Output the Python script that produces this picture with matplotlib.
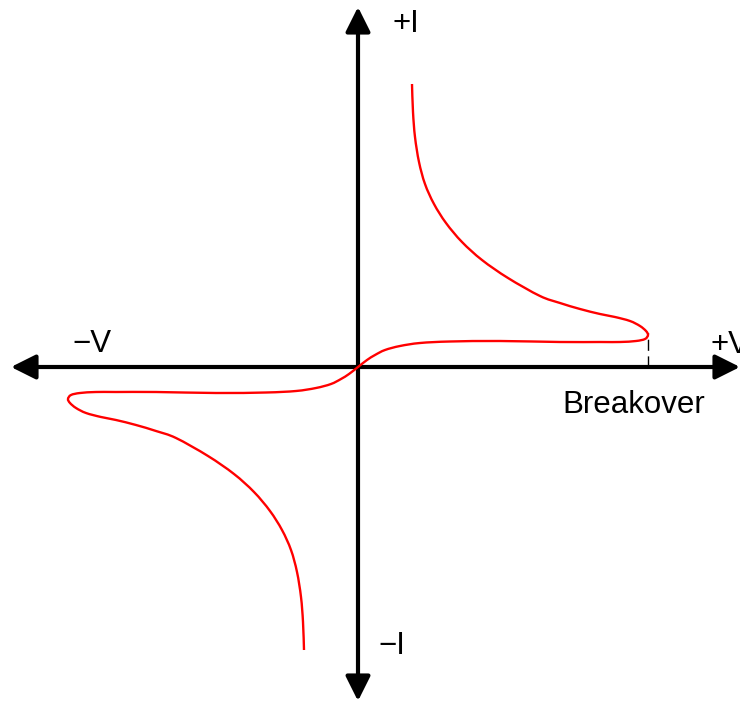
import numpy as np
import matplotlib
matplotlib.use("Agg")
import matplotlib.pyplot as plt
from matplotlib.path import Path
from matplotlib.patches import PathPatch

plt.rcParams['font.family'] = ['Liberation Sans', 'DejaVu Sans']

# -----------------------------
# DIAC characteristic, first quadrant (V, I)
# from the top of the conduction branch down through breakover to 0
# -----------------------------
v_q1 = np.array([
    54, 55, 57, 61, 67, 76, 88, 104, 124, 150, 182, 202, 222, 242, 257,
    272, 282, 288, 290, 287, 278, 262, 242, 202, 142, 92, 62, 42, 27, 17,
    9, 0
], dtype=float)
i_q1 = np.array([
    283, 255, 230, 205, 183, 163, 144, 125, 107, 89, 71, 64, 58, 53, 50,
    46, 41, 36, 32, 28, 26, 25, 25, 25, 26, 25.5, 24, 21, 17, 12,
    7, 0
], dtype=float)

# the device is symmetric: third quadrant is the mirror image
v_q3 = -v_q1
i_q3 = -i_q1

v_breakover = 290
i_breakover = 34

# axis extents
v_min, v_max = -347, 382
i_min, i_max = -334, 360

# -----------------------------
# Figure
# -----------------------------
fig = plt.figure(figsize=(7.4, 7.02), dpi=100)
ax = fig.add_axes([0, 0, 1, 1])
ax.set_xlim(-358, 382)
ax.set_ylim(-335, 367)
ax.axis("off")

arrow = dict(arrowstyle="<|-|>,head_length=0.75,head_width=0.375",
             lw=3, color="black", mutation_scale=20, shrinkA=0, shrinkB=0)
ax.annotate("", xy=(v_max, 0), xytext=(v_min, 0), arrowprops=arrow, zorder=2)
ax.annotate("", xy=(0, i_max), xytext=(0, i_min), arrowprops=arrow, zorder=2)

# breakover marker
ax.plot([v_breakover, v_breakover], [0, i_breakover], color="black",
        lw=1, linestyle=(0, (8, 4)), zorder=2)

# curve: bottom branch -> origin -> top branch, drawn as smooth Bezier
pts = np.column_stack([np.concatenate([v_q3, v_q1[::-1][1:]]),
                       np.concatenate([i_q3, i_q1[::-1][1:]])])
verts = [pts[0]]
codes = [Path.MOVETO]
n = len(pts)
for k in range(n - 1):
    p0 = pts[max(k - 1, 0)]
    p1 = pts[k]
    p2 = pts[k + 1]
    p3 = pts[min(k + 2, n - 1)]
    verts += [p1 + (p2 - p0) / 6, p2 - (p3 - p1) / 6, p2]
    codes += [Path.CURVE4] * 3
ax.add_patch(PathPatch(Path(verts, codes), fill=False, edgecolor="#ff0000",
                       lw=1.7, zorder=3))

# labels
FS = 22.5
ax.text(34, 335, "+I", fontsize=FS, va="baseline")
ax.text(20, -287, "\u2212I", fontsize=FS, va="baseline")
ax.text(-286, 15, "\u2212V", fontsize=FS, va="baseline")
ax.text(353, 14, "+V", fontsize=FS, va="baseline")
ax.text(204, -46, "Breakover", fontsize=FS, va="baseline")

fig.savefig("out.png", dpi=100)
